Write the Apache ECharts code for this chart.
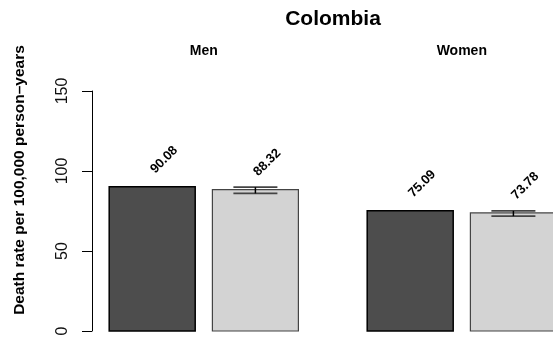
<!DOCTYPE html>
<html>
<head>
<meta charset="utf-8">
<script src="https://cdn.jsdelivr.net/npm/echarts@6/dist/echarts.min.js"></script>
<style>
  html, body { margin: 0; padding: 0; background: #fff; }
  #chart { width: 553px; height: 351px; }
</style>
</head>
<body>
<div id="chart"></div>
<script>
// Death rates per 100,000 person-years, Colombia
const chartTitle = 'Colombia';
const yAxisTitle = 'Death rate per 100,000 person\u2013years';
const groups = ['Men', 'Women'];
const darkRates = [90.08, 75.09];
const lightRates = [88.32, 73.78];
const lightLower = [86.0, 71.8];
const lightUpper = [89.9, 75.1];
const yTicks = [0, 50, 100, 150];

// barplot-like layout: bar width = 1 unit, gap 0.2 inside a group, 0.8 between groups
const SPACE_IN = 0.2, SPACE_OUT = 0.8;
function barLeft(g, k) {
  return SPACE_IN + g * (2 + SPACE_IN + SPACE_OUT) + k * (1 + SPACE_IN);
}

const FONT = 'Liberation Sans, Arial, sans-serif';
const DARK = '#4d4d4d', LIGHT = '#d3d3d3';

const barData = [];
groups.forEach((g, i) => {
  barData.push([i, 0, darkRates[i], null, null]);
  barData.push([i, 1, lightRates[i], lightLower[i], lightUpper[i]]);
});

function renderBar(params, api) {
  const g = api.value(0), k = api.value(1), v = api.value(2);
  const x0 = barLeft(g, k);
  const pTop = api.coord([x0, v]);
  const pBot = api.coord([x0 + 1, 0]);
  const left = pTop[0], right = pBot[0];
  const cx = (left + right) / 2;
  const children = [{
    type: 'rect',
    shape: { x: left, y: pTop[1], width: right - left, height: pBot[1] - pTop[1] },
    style: k === 0
      ? { fill: DARK, stroke: '#000', lineWidth: 1.5 }
      : { fill: LIGHT, stroke: '#444', lineWidth: 1.2 }
  }];
  if (k === 1) {
    const lo = api.coord([x0 + 0.5, api.value(3)])[1];
    const hi = api.coord([x0 + 0.5, api.value(4)])[1];
    const half = 22;
    children.push(
      { type: 'line', shape: { x1: cx - half, y1: hi, x2: cx + half, y2: hi }, style: { stroke: '#444', lineWidth: 1.6 } },
      { type: 'line', shape: { x1: cx - half, y1: lo, x2: cx + half, y2: lo }, style: { stroke: '#444', lineWidth: 1.6 } },
      { type: 'line', shape: { x1: cx, y1: hi, x2: cx, y2: lo }, style: { stroke: '#000', lineWidth: 1.5 } }
    );
  }
  children.push({
    type: 'text',
    x: cx + 5,
    y: pTop[1] - 11,
    rotation: Math.PI / 4,
    style: {
      text: v.toFixed(2),
      textAlign: 'left',
      textVerticalAlign: 'bottom',
      font: 'bold 13px ' + FONT,
      fill: '#000'
    }
  });
  return { type: 'group', children };
}

function renderGroupName(params, api) {
  const g = api.value(0);
  const a = api.coord([barLeft(g, 0), 0])[0];
  const b = api.coord([barLeft(g, 1) + 1, 0])[0];
  return {
    type: 'text',
    x: (a + b) / 2,
    y: 51,
    style: {
      text: groups[g],
      textAlign: 'center',
      textVerticalAlign: 'middle',
      font: 'bold 14px ' + FONT,
      fill: '#000'
    }
  };
}

const chart = echarts.init(document.getElementById('chart'), null, { renderer: 'canvas' });
chart.setOption({
  animation: false,
  backgroundColor: '#fff',
  grid: { left: 92, right: 0, top: 91, bottom: 20 },
  xAxis: {
    type: 'value', min: 0, max: 461 / 86, show: false
  },
  yAxis: {
    type: 'value',
    min: yTicks[0], max: yTicks[yTicks.length - 1], interval: 50,
    axisLine: { show: true, lineStyle: { color: '#000', width: 1 } },
    axisTick: { show: true, length: 10, lineStyle: { color: '#000', width: 1 } },
    splitLine: { show: false },
    axisLabel: { rotate: 90, margin: 21, fontSize: 16, fontFamily: FONT, color: '#111' }
  },
  graphic: [
    {
      type: 'text', x: 333, y: 19,
      style: { text: chartTitle, textAlign: 'center', textVerticalAlign: 'middle', font: 'bold 21px ' + FONT, fill: '#000' }
    },
    {
      type: 'text', x: 20, y: 180, rotation: Math.PI / 2,
      style: { text: yAxisTitle, textAlign: 'center', textVerticalAlign: 'middle', font: 'bold 15.5px ' + FONT, fill: '#000' }
    }
  ],
  series: [
    {
      type: 'custom', name: 'bars', renderItem: renderBar,
      data: barData, clip: false, encode: { x: 0, y: 2 }
    },
    {
      type: 'custom', name: 'groups', renderItem: renderGroupName,
      data: groups.map((g, i) => [i]), clip: false
    }
  ]
});
</script>
</body>
</html>
